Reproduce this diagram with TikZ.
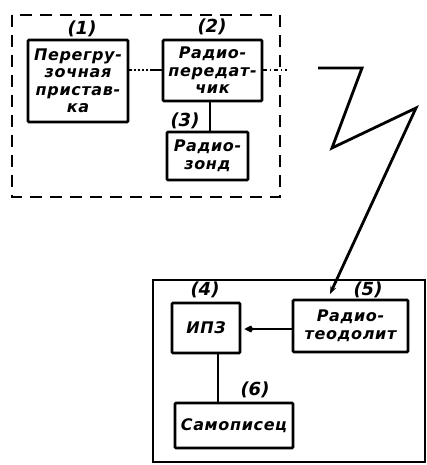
\documentclass[tikz,border=0pt]{standalone}
\usepackage{fontspec}
\setmainfont{DejaVu Sans}
\newfontfamily\hw[LetterSpace=4]{DejaVu Sans}
\usetikzlibrary{arrows.meta}
\begin{document}
\begin{tikzpicture}[x=1pt,y=-1pt,
  blk/.style={draw,line width=2.6pt,rounded corners=1pt,inner sep=1pt,align=center,
    font=\hw\bfseries\itshape\fontsize{16}{17.5}\selectfont},
  num/.style={font=\bfseries\itshape\fontsize{18}{18}\selectfont,inner sep=0pt},
  wire/.style={line width=2.2pt}]
\useasboundingbox (0,0) rectangle (427,465);
% dashed group
\draw[line width=2.8pt,dash pattern=on 12pt off 8pt] (12,15) rectangle (280,197);
% ground frame
\draw[line width=2pt] (153,280) rectangle (425,462);
% boxes
\node[blk,minimum width=100pt,minimum height=82pt] (b1) at (78,81) {Перегру-\\зочная\\пристав-\\ка};
\node[blk,minimum width=99pt,minimum height=61pt] (b2) at (212.5,70.5) {Радио-\\передат-\\чик};
\node[blk,minimum width=81pt,minimum height=48pt] (b3) at (207.5,156) {Радио-\\зонд};
\node[blk,minimum width=68pt,minimum height=50pt] (b4) at (206,328) {ИПЗ};
\node[blk,minimum width=115pt,minimum height=52pt] (b5) at (350.5,326) {Радио-\\теодолит};
\node[blk,minimum width=118pt,minimum height=45pt] (b6) at (234,425.5) {Самописец};
% labels
\node[num] (n1) at (82,29) {(1)};
\node[num] (n2) at (212,27) {(2)};
\node[num] (n3) at (185,121) {(3)};
\node[num] (n4) at (205,290) {(4)};
\node[num] (n5) at (368,290) {(5)};
\node[num] (n6) at (255,390) {(6)};
% connectors
\coordinate (d1) at (153,70);
\draw[wire,dotted] (b1.east |- d1) -- (d1);
\draw[wire] (d1) -- (b2.west |- d1);
\coordinate (t1) at (287,70);
\draw[wire,dash pattern=on 4pt off 3pt on 1pt off 3pt] (b2.east |- t1) -- (t1);
\draw[wire] (b2.south -| 210,0) -- (b3.north -| 210,0);
\draw[wire] (b4.south -| 218,0) -- (b6.north -| 218,0);
\draw[wire,-{Kite[length=9pt,width=7pt]}] (b5.west |- 0,329) -- ([xshift=3pt]b4.east |- 0,329);
% lightning
\coordinate (z0) at (318,68);
\coordinate (z1) at (362,68);
\coordinate (z2) at (332,148);
\coordinate (z3) at (416,108);
\coordinate (z4) at (330,294);
\draw[line width=2.8pt,line join=miter,-{Stealth[length=8pt,width=6pt]}] (z0) -- (z1) -- (z2) -- (z3) -- (z4);
\end{tikzpicture}
\end{document}
